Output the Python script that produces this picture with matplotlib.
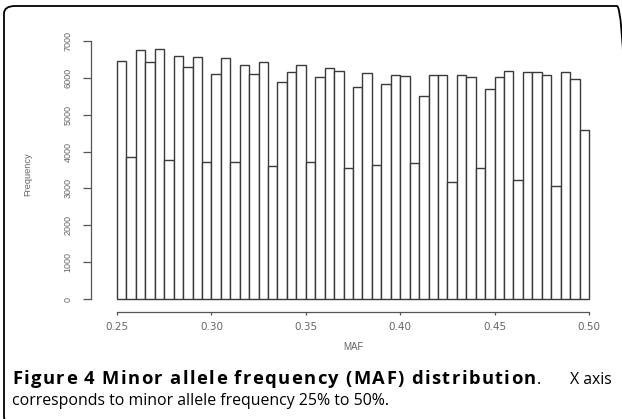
import numpy as np
import matplotlib
matplotlib.use('Agg')
import matplotlib.pyplot as plt
from matplotlib.patches import FancyBboxPatch
from matplotlib.font_manager import FontProperties

# MAF histogram: 50 bins of width 0.005 between 0.25 and 0.50
bin_edges = np.linspace(0.25, 0.50, 51)
counts = [6450, 3860, 6760, 6420, 6780, 3770, 6580, 6290, 6560, 3710,
          6100, 6530, 3710, 6330, 6110, 6410, 3620, 5890, 6150, 6330,
          3710, 6020, 6260, 6170, 3560, 5750, 6130, 3640, 5840, 6060,
          6040, 3700, 5500, 6060, 6060, 3180, 6070, 6030, 3560, 5680,
          6030, 6170, 3220, 6150, 6150, 6060, 3070, 6150, 5970, 4570]
x_ticks = [0.25, 0.30, 0.35, 0.40, 0.45, 0.50]
x_tick_labels = ['0.25', '0.30', '0.35', '0.40', '0.45', '0.50']
y_ticks = [0, 1000, 2000, 3000, 4000, 5000, 6000, 7000]

caption_bold = 'Figure 4 Minor allele frequency (MAF) distribution'
caption_rest = 'X axis'
caption_line2 = 'corresponds to minor allele frequency 25% to 50%.'

W, H = 622, 419
fig = plt.figure(figsize=(W / 100, H / 100), dpi=100)

# rounded frame around the whole figure panel
frame = FancyBboxPatch((4 / W, (H - 424) / H), 624 / W, 418 / H,
                       boxstyle='round,pad=0,rounding_size=0.018',
                       transform=fig.transFigure, fill=False,
                       edgecolor='black', linewidth=1.3, clip_on=False)
fig.patches.append(frame)

ax = fig.add_axes([98.1 / W, (H - 309.3) / H, 509.8 / W, 270.5 / H])
ax.bar(bin_edges[:-1], counts, width=np.diff(bin_edges), align='edge',
       facecolor='white', edgecolor='#3a3a3a', linewidth=1.0)

ax.set_xlim(0.24, 0.51)
ax.set_ylim(-271, 7051)
for s in ['top', 'right']:
    ax.spines[s].set_visible(False)
ax.spines['left'].set_bounds(0, 7000)
ax.spines['bottom'].set_bounds(0.25, 0.50)
ax.spines['left'].set_position(('outward', 5))
ax.spines['bottom'].set_position(('outward', 2))
for s in ['left', 'bottom']:
    ax.spines[s].set_color('#555555')
    ax.spines[s].set_linewidth(0.9)

ax.set_xticks(x_ticks)
ax.set_xticklabels(x_tick_labels, family='DejaVu Sans', fontsize=7.5, color='#666666')
ax.set_yticks(y_ticks)
ax.set_yticklabels([str(v) for v in y_ticks], family='Liberation Sans',
                   fontsize=6.5, color='#666666', rotation=90, va='center')
ax.tick_params(axis='x', length=2.5, width=0.9, color='#555555', pad=5)
ax.tick_params(axis='y', length=5.5, width=0.9, color='#555555', pad=8)

ax.set_ylabel('Frequency', family='Liberation Sans', fontsize=6.7, color='#666666')
ax.yaxis.set_label_coords(-0.13, 0.5)
ax.set_xlabel('MAF', family='Liberation Sans', fontsize=7, color='#666666')
ax.xaxis.set_label_coords(0.5, -0.14)
ax.xaxis.label.set_va('center')

# caption; first line is justified (bold run slightly letter-spaced)
renderer = fig.canvas.get_renderer()
bold_prop = FontProperties(family='Open Sans', weight='bold', size=13.2)
reg_prop = FontProperties(family='Open Sans', size=11.4)


def text_width(s, prop):
    if not s:
        return 0.0
    w, _, _ = renderer.get_text_width_height_descent(s, prop, ismath=False)
    return w


x0, x_bold_end, x_right = 12, 536, 612
y1, y2 = 1 - 384 / H, 1 - 405 / H
natural = text_width(caption_bold, bold_prop)
track = max(0.0, (x_bold_end - x0 - natural) / (len(caption_bold) - 1))
for i, ch in enumerate(caption_bold):
    if ch == ' ':
        continue
    xi = x0 + text_width(caption_bold[:i], bold_prop) + i * track
    fig.text(xi / W, y1, ch, fontproperties=bold_prop, va='baseline')

fig.text((x_bold_end + 1) / W, y1, '.', fontproperties=reg_prop, va='baseline')
fig.text(x_right / W, y1, caption_rest, fontproperties=reg_prop, ha='right', va='baseline')
fig.text(x0 / W, y2, caption_line2, fontproperties=reg_prop, va='baseline')

plt.savefig('out.png', dpi=100)
